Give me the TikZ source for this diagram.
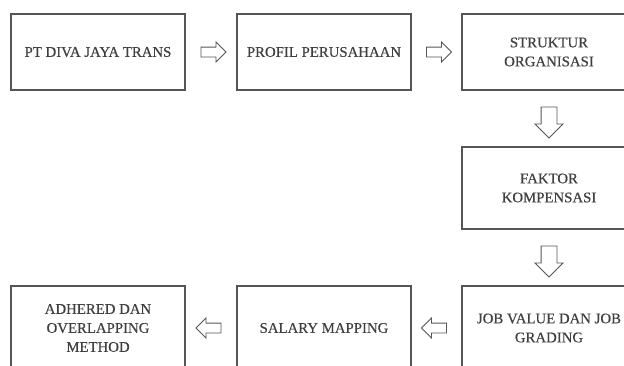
\documentclass[tikz,border=0pt]{standalone}
\usepackage{fontspec}
\setmainfont{Liberation Serif}[FakeBold=0.4]
\usetikzlibrary{shapes.arrows,calc}
\definecolor{boxline}{HTML}{555555}
\definecolor{txt}{HTML}{404040}
\tikzset{
  box/.style={draw=boxline, line width=1.2pt, minimum width=174pt, minimum height=76pt,
    inner sep=0pt, align=center, font=\fontsize{14.8}{19}\selectfont, text=txt},
  blockarrow/.style={single arrow, draw=boxline, line width=0.9pt, fill=white},
  harrow/.style={blockarrow, inner sep=4.5pt, single arrow head extend=5pt, minimum height=25pt},
  varrow/.style={blockarrow, inner sep=7.5pt, single arrow head extend=6pt, minimum height=31pt, shape border rotate=270},
}
\begin{document}
\begin{tikzpicture}[x=1pt,y=-1pt]
\clip (0,0) rectangle (624,365);
\fill[white] (0,0) rectangle (624,365);
\node[box] (b1) at (98,52) {PT DIVA JAYA TRANS};
\node[box] (b2) at (324,52) {PROFIL PERUSAHAAN};
\node[box] (b3) at (549,52) {STRUKTUR\\ORGANISASI};
\node[box, minimum height=82pt] (b4) at (549,188) {FAKTOR\\KOMPENSASI};
\node[box, minimum height=84pt] (b5) at (549,328) {JOB VALUE DAN JOB\\GRADING};
\node[box, minimum height=84pt] (b6) at (324,328) {SALARY MAPPING};
\node[box, minimum height=84pt] (b7) at (98,328) {ADHERED DAN\\OVERLAPPING\\METHOD};
\node[harrow] (a1) at ($(b1.east)!0.5!(b2.west)$) {};
\node[harrow] (a2) at ($(b2.east)!0.5!(b3.west)$) {};
\node[varrow] (a3) at ($(b3.south)!0.5!(b4.north)$) {};
\node[varrow] (a4) at ($(b4.south)!0.5!(b5.north)$) {};
\node[harrow, shape border rotate=180] (a5) at ($(b5.west)!0.5!(b6.east)$) {};
\node[harrow, shape border rotate=180] (a6) at ($(b6.west)!0.5!(b7.east)$) {};
\end{tikzpicture}
\end{document}
